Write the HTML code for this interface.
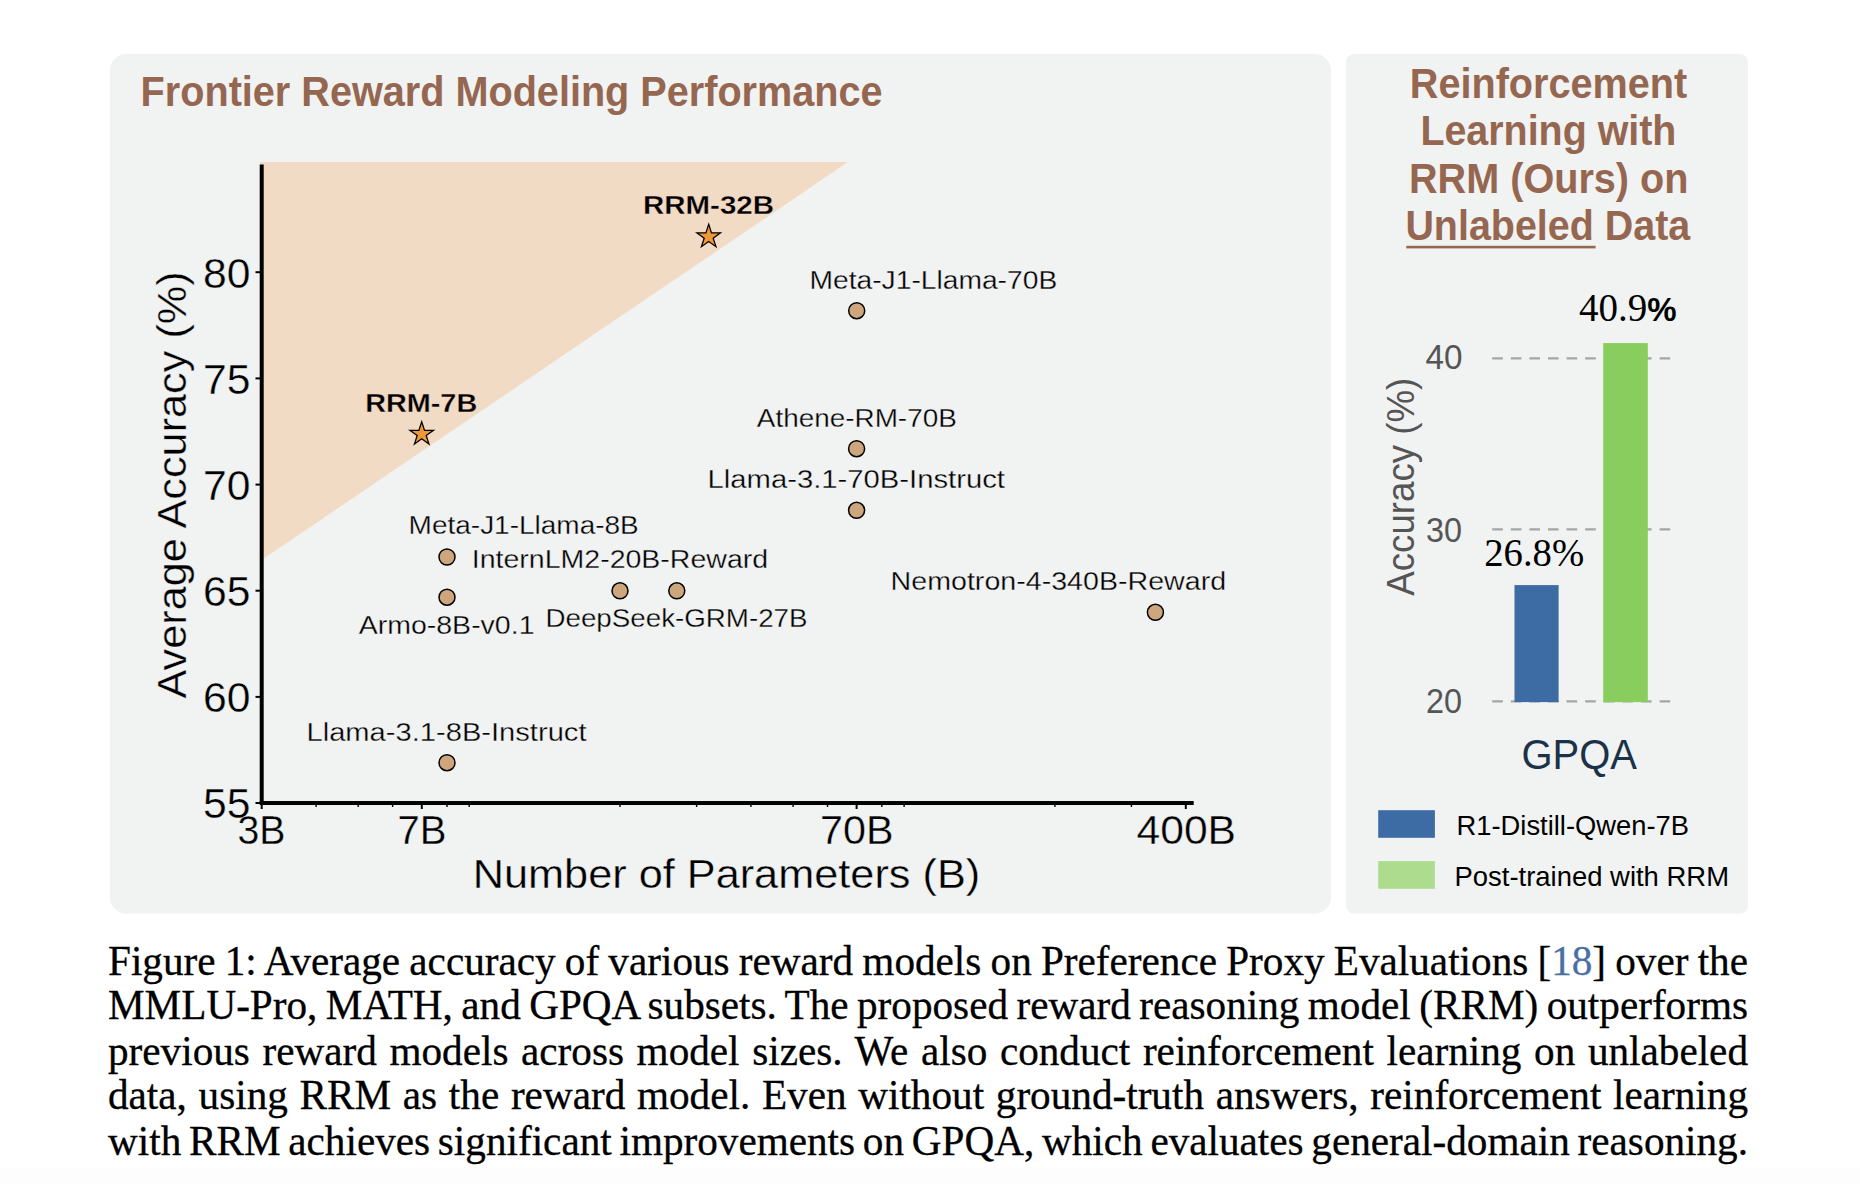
<!DOCTYPE html>
<html><head><meta charset="utf-8">
<style>
html,body{margin:0;padding:0;background:#fff;}
body{width:1860px;height:1184px;position:relative;overflow:hidden;}
svg{position:absolute;left:0;top:0;}
.cap{position:absolute;left:108px;top:0;width:1640px;-webkit-text-stroke:0.3px #000;font-family:"Liberation Serif",serif;font-size:41.2px;word-spacing:-3px;color:#000;}
.ln{position:absolute;left:0;width:1640px;height:45px;line-height:45px;text-align:justify;text-align-last:justify;white-space:nowrap;}
.ref{color:#4a6fa5;-webkit-text-stroke:0.3px #4a6fa5;}
</style></head><body>
<svg width="1860" height="1184" viewBox="0 0 1860 1184">
<rect x="0" y="1167" width="1860" height="17" fill="#fdfdfd"/>
<rect x="110" y="54" width="1221" height="859.5" rx="16" ry="16" fill="#f1f2f2"/>
<rect x="1346" y="54" width="402" height="859.5" rx="8" ry="8" fill="#f1f2f2"/>
<text x="140.6" y="105.9" font-family="Liberation Sans" font-weight="700" font-size="42.2" fill="#956751" textLength="742" lengthAdjust="spacingAndGlyphs">Frontier Reward Modeling Performance</text>
<polygon points="260,162.1 847.9,162.1 260,561.1" fill="#f2dbc5"/>
<g stroke="#000" stroke-width="1.4"><line x1="316.1" y1="803" x2="316.1" y2="807"/><line x1="358.2" y1="803" x2="358.2" y2="807"/><line x1="392.6" y1="803" x2="392.6" y2="807"/><line x1="447.0" y1="803" x2="447.0" y2="807"/><line x1="469.2" y1="803" x2="469.2" y2="807"/><line x1="620.0" y1="803" x2="620.0" y2="807"/><line x1="696.6" y1="803" x2="696.6" y2="807"/><line x1="750.9" y1="803" x2="750.9" y2="807"/><line x1="793.1" y1="803" x2="793.1" y2="807"/><line x1="827.5" y1="803" x2="827.5" y2="807"/><line x1="881.8" y1="803" x2="881.8" y2="807"/><line x1="904.1" y1="803" x2="904.1" y2="807"/><line x1="1054.9" y1="803" x2="1054.9" y2="807"/><line x1="1131.4" y1="803" x2="1131.4" y2="807"/></g>
<g stroke="#000" stroke-width="2"><line x1="261.7" y1="803" x2="261.7" y2="809"/><line x1="421.8" y1="803" x2="421.8" y2="809"/><line x1="856.6" y1="803" x2="856.6" y2="809"/><line x1="1185.8" y1="803" x2="1185.8" y2="809"/><line x1="255.5" y1="803.0" x2="262" y2="803.0"/><line x1="255.5" y1="696.9" x2="262" y2="696.9"/><line x1="255.5" y1="590.7" x2="262" y2="590.7"/><line x1="255.5" y1="484.6" x2="262" y2="484.6"/><line x1="255.5" y1="378.4" x2="262" y2="378.4"/><line x1="255.5" y1="272.2" x2="262" y2="272.2"/></g>
<line x1="261.7" y1="164.6" x2="261.7" y2="803" stroke="#000" stroke-width="4"/>
<line x1="259.7" y1="803" x2="1193.7" y2="803" stroke="#000" stroke-width="4"/>
<g font-family="Liberation Sans" font-size="40" fill="#000" stroke="#f1f2f2" stroke-width="0.35">
<text x="250.6" y="818.4" font-size="42.2" text-anchor="end" textLength="47.5" lengthAdjust="spacingAndGlyphs">55</text><text x="250.6" y="712.2" font-size="42.2" text-anchor="end" textLength="47.5" lengthAdjust="spacingAndGlyphs">60</text><text x="250.6" y="606.1" font-size="42.2" text-anchor="end" textLength="47.5" lengthAdjust="spacingAndGlyphs">65</text><text x="250.6" y="499.9" font-size="42.2" text-anchor="end" textLength="47.5" lengthAdjust="spacingAndGlyphs">70</text><text x="250.6" y="393.8" font-size="42.2" text-anchor="end" textLength="47.5" lengthAdjust="spacingAndGlyphs">75</text><text x="250.6" y="287.6" font-size="42.2" text-anchor="end" textLength="47.5" lengthAdjust="spacingAndGlyphs">80</text>
<text x="237.5" y="844.3" textLength="48" lengthAdjust="spacingAndGlyphs">3B</text>
<text x="397.5" y="844.3" textLength="49" lengthAdjust="spacingAndGlyphs">7B</text>
<text x="820" y="844.3" textLength="73.5" lengthAdjust="spacingAndGlyphs">70B</text>
<text x="1136.5" y="844.3" textLength="99.5" lengthAdjust="spacingAndGlyphs">400B</text>
<text x="472.7" y="888" font-size="40.6" textLength="507.5" lengthAdjust="spacingAndGlyphs">Number of Parameters (B)</text>
<text transform="translate(186.1,698.5) rotate(-90)" x="0" y="0" font-size="40.6" textLength="427.2" lengthAdjust="spacingAndGlyphs">Average Accuracy (%)</text>
</g>
<g stroke="#000" stroke-width="1.5" fill="#cea67e">
<circle cx="856.7" cy="310.7" r="8"/>
<circle cx="856.6" cy="448.7" r="8"/>
<circle cx="856.6" cy="510.3" r="8"/>
<circle cx="447" cy="557" r="8"/>
<circle cx="620" cy="590.8" r="8"/>
<circle cx="676.8" cy="590.8" r="8"/>
<circle cx="447" cy="597.2" r="8"/>
<circle cx="1155.4" cy="612.3" r="8"/>
<circle cx="447" cy="762.7" r="8"/>
</g>
<g stroke="#000" stroke-width="1.25" stroke-linejoin="miter" fill="#f0973a">
<polygon points="421.70,421.70 424.48,430.27 433.49,430.27 426.20,435.56 428.99,444.13 421.70,438.84 414.41,444.13 417.20,435.56 409.91,430.27 418.92,430.27"/>
<polygon points="708.70,224.30 711.48,232.87 720.49,232.87 713.20,238.16 715.99,246.73 708.70,241.44 701.41,246.73 704.20,238.16 696.91,232.87 705.92,232.87"/>
</g>
<g font-family="Liberation Sans" font-size="25.5" fill="#000">
<text x="643" y="214.4" font-size="26.6" stroke="#f2dbc5" stroke-width="0.3" font-weight="700" textLength="131" lengthAdjust="spacingAndGlyphs">RRM-32B</text>
<text x="365.2" y="411.8" font-size="26.4" stroke="#f2dbc5" stroke-width="0.3" font-weight="700" textLength="112" lengthAdjust="spacingAndGlyphs">RRM-7B</text>
<g stroke="#f1f2f2" stroke-width="0.3">
<text x="809.5" y="288.8" textLength="247.7" lengthAdjust="spacingAndGlyphs">Meta-J1-Llama-70B</text>
<text x="756.8" y="426.8" textLength="200" lengthAdjust="spacingAndGlyphs">Athene-RM-70B</text>
<text x="707.5" y="487.9" textLength="297.5" lengthAdjust="spacingAndGlyphs">Llama-3.1-70B-Instruct</text>
<text x="408.6" y="534.3" textLength="230.2" lengthAdjust="spacingAndGlyphs">Meta-J1-Llama-8B</text>
<text x="471.8" y="568" textLength="296.3" lengthAdjust="spacingAndGlyphs">InternLM2-20B-Reward</text>
<text x="545.5" y="627" textLength="262" lengthAdjust="spacingAndGlyphs">DeepSeek-GRM-27B</text>
<text x="358.7" y="634.2" textLength="175.8" lengthAdjust="spacingAndGlyphs">Armo-8B-v0.1</text>
<text x="890.6" y="590" textLength="335.5" lengthAdjust="spacingAndGlyphs">Nemotron-4-340B-Reward</text>
<text x="306.5" y="740.5" textLength="280" lengthAdjust="spacingAndGlyphs">Llama-3.1-8B-Instruct</text>
</g></g>
<g font-family="Liberation Sans" font-weight="700" font-size="42" fill="#956751" lengthAdjust="spacingAndGlyphs">
<text x="1409.8" y="97.8" textLength="277.4" lengthAdjust="spacingAndGlyphs">Reinforcement</text>
<text x="1420.4" y="145.2" textLength="256" lengthAdjust="spacingAndGlyphs">Learning with</text>
<text x="1409" y="193.1" textLength="279.4" lengthAdjust="spacingAndGlyphs">RRM (Ours) on</text>
<text x="1405.4" y="239.8" textLength="284.8" lengthAdjust="spacingAndGlyphs">Unlabeled Data</text>
</g>
<rect x="1406.3" y="245.8" width="189.3" height="2.6" fill="#956751"/>
<g stroke="#a5a5a5" stroke-width="2.2" stroke-dasharray="10.6 8.0">
<line x1="1492.2" y1="358.3" x2="1671" y2="358.3"/>
<line x1="1492.2" y1="529.4" x2="1671" y2="529.4"/>
<line x1="1492.2" y1="701.3" x2="1671" y2="701.3"/>
</g>
<rect x="1514.5" y="585.1" width="44.1" height="117" fill="#3c6ca3"/>
<rect x="1603.2" y="343.1" width="44.6" height="359" fill="#88cd5d"/>
<g font-family="Liberation Sans" font-size="34.8" fill="#555">
<text x="1425.5" y="369" textLength="37" lengthAdjust="spacingAndGlyphs">40</text>
<text x="1426" y="541.5" textLength="36" lengthAdjust="spacingAndGlyphs">30</text>
<text x="1426" y="712.8" textLength="36" lengthAdjust="spacingAndGlyphs">20</text>
</g>
<text transform="translate(1414.1,595.7) rotate(-90)" font-family="Liberation Sans" font-size="38.5" fill="#555" textLength="218" lengthAdjust="spacingAndGlyphs">Accuracy (%)</text>
<text x="1579" y="321" font-family="Liberation Serif" font-size="39" fill="#000">40.9<tspan font-family="Liberation Sans" font-weight="700" font-size="33">%</tspan></text>
<text x="1484.2" y="566.2" font-family="Liberation Serif" font-size="39" fill="#000" textLength="100" lengthAdjust="spacingAndGlyphs">26.8%</text>
<text x="1521.5" y="769.3" font-family="Liberation Sans" font-size="42.5" fill="#1b3249" textLength="115.5" lengthAdjust="spacingAndGlyphs">GPQA</text>
<rect x="1378.2" y="810.2" width="56.7" height="27.6" fill="#3c6ca3"/>
<rect x="1378.2" y="861.1" width="56.7" height="27.7" fill="#addc8f"/>
<g font-family="Liberation Sans" font-size="27.3" fill="#000">
<text x="1456.5" y="834.9" textLength="232.5" lengthAdjust="spacingAndGlyphs">R1-Distill-Qwen-7B</text>
<text x="1454.5" y="886.1" textLength="274.5" lengthAdjust="spacingAndGlyphs">Post-trained with RRM</text>
</g>
</svg>
<div class="cap">
<div class="ln" style="top:939px">Figure 1: Average accuracy of various reward models on Preference Proxy Evaluations [<span class="ref">18</span>] over the</div>
<div class="ln" style="top:983px">MMLU-Pro, MATH, and GPQA subsets. The proposed reward reasoning model (RRM) outperforms</div>
<div class="ln" style="top:1029px">previous reward models across model sizes. We also conduct reinforcement learning on unlabeled</div>
<div class="ln" style="top:1073px">data, using RRM as the reward model. Even without ground-truth answers, reinforcement learning</div>
<div class="ln" style="top:1119px">with RRM achieves significant improvements on GPQA, which evaluates general-domain reasoning.</div>
</div>
</body></html>
